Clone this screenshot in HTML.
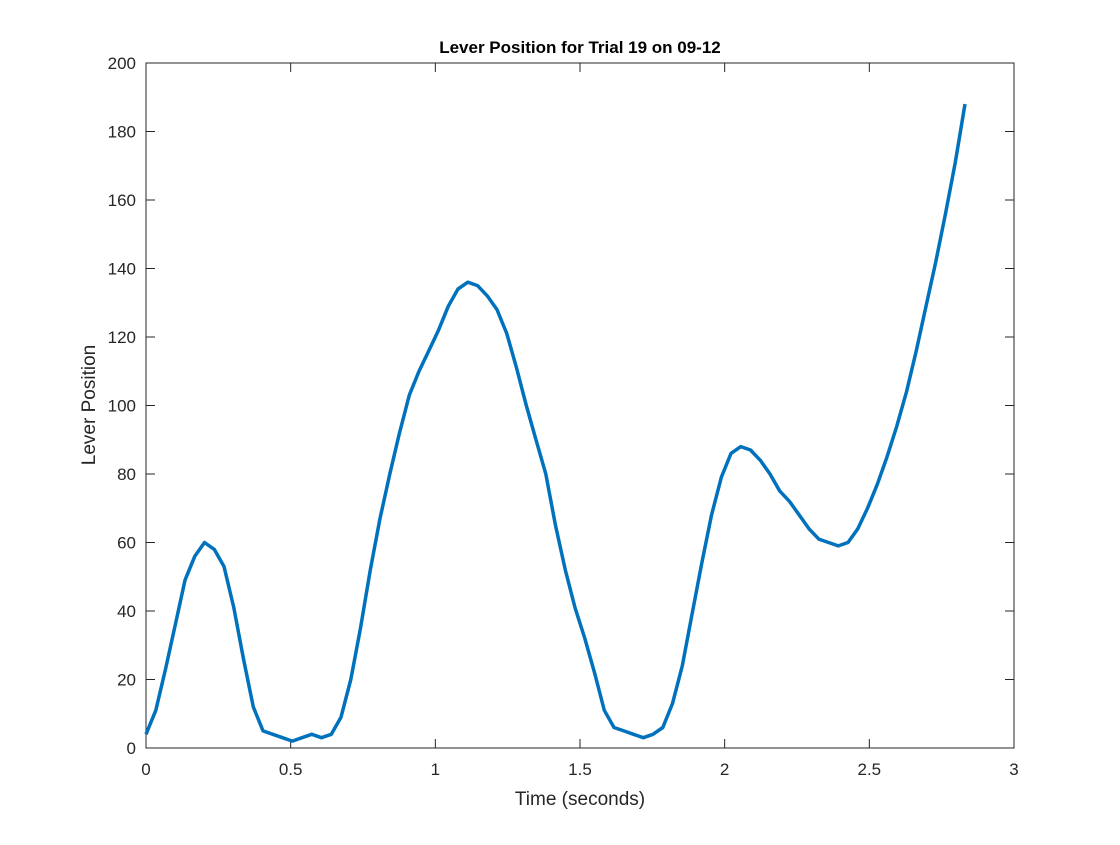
<!DOCTYPE html>
<html><head><meta charset="utf-8"><style>
html,body{margin:0;padding:0;background:#fff;}
svg text{font-family:"Liberation Sans",Helvetica,Arial,sans-serif;fill:#262626;}
</style></head><body>
<svg id="chart" width="1120" height="840" xmlns="http://www.w3.org/2000/svg">
<rect width="1120" height="840" fill="#fff"/>
<rect x="146" y="63" width="868" height="685" fill="#fff" stroke="#262626" stroke-width="1"/>
<g id="ticks"></g>
<path id="line" fill="none" stroke="#0072BD" stroke-width="3.5" stroke-linejoin="round"/>
<text x="580" y="53" text-anchor="middle" font-size="17" font-weight="bold" style="fill:#000">Lever Position for Trial 19 on 09-12</text>
<text x="580" y="805" text-anchor="middle" font-size="19">Time (seconds)</text>
<text x="95" y="405" text-anchor="middle" font-size="19" transform="rotate(-90 95 405)">Lever Position</text>
</svg>
<script>
const sampleInterval = 0.0337;
const positions = [4,11,23,36,49,56,60,58,53,41,26,12,5,4,3,2,3,4,3,4,9,20,35,52,67,80,92,103,110,116,122,129,134,136,135,132,128,121,111,100,90,80,65,52,41,32,22,11,6,5,4,3,4,6,13,24,39,54,68,79,86,88,87,84,80,75,72,68,64,61,60,59,60,64,70,77,85,94,104,116,129,142,156,171,188];
const xTicks = [0,0.5,1,1.5,2,2.5,3];
const xTickLabels = ["0","0.5","1","1.5","2","2.5","3"];
const yTicks = [0,20,40,60,80,100,120,140,160,180,200];
const yTickLabels = ["0","20","40","60","80","100","120","140","160","180","200"];

const X0=146,X1=1014,Y0=748,Y1=63;
const xs = v => X0 + (v-0)/(3-0)*(X1-X0);
const ys = v => Y0 - (v-0)/(200-0)*(Y0-Y1);
const NS="http://www.w3.org/2000/svg";
const g=document.getElementById('ticks');
function mk(tag,attrs){const e=document.createElementNS(NS,tag);for(const k in attrs)e.setAttribute(k,attrs[k]);g.appendChild(e);return e;}
xTicks.forEach((t,i)=>{
  const x=xs(t);
  const a=mk('line',{x1:x,x2:x,y1:Y0,y2:Y0-9,stroke:'#262626'});
  
  
  const b=mk('line',{x1:x,x2:x,y1:Y1,y2:Y1+9,stroke:'#262626'});
  
  
  const tx=mk('text',{x:x,y:Y0+27,'text-anchor':'middle','font-size':'17'});
  tx.textContent=xTickLabels[i];
  
  
});
yTicks.forEach((t,i)=>{
  const y=ys(t);
  const a=mk('line',{x1:X0,x2:X0+9,y1:y,y2:y,stroke:'#262626'});
  
  
  const b=mk('line',{x1:X1,x2:X1-9,y1:y,y2:y,stroke:'#262626'});
  
  
  const tx=mk('text',{x:X0-10,y:y+6,'text-anchor':'end','font-size':'17'});
  tx.textContent=yTickLabels[i];
  
  
});
document.getElementById('line').setAttribute('d',positions.map((v,i)=>(i?'L':'M')+xs(i*sampleInterval).toFixed(1)+','+ys(v).toFixed(1)).join(' '));
</script>
</body></html>
